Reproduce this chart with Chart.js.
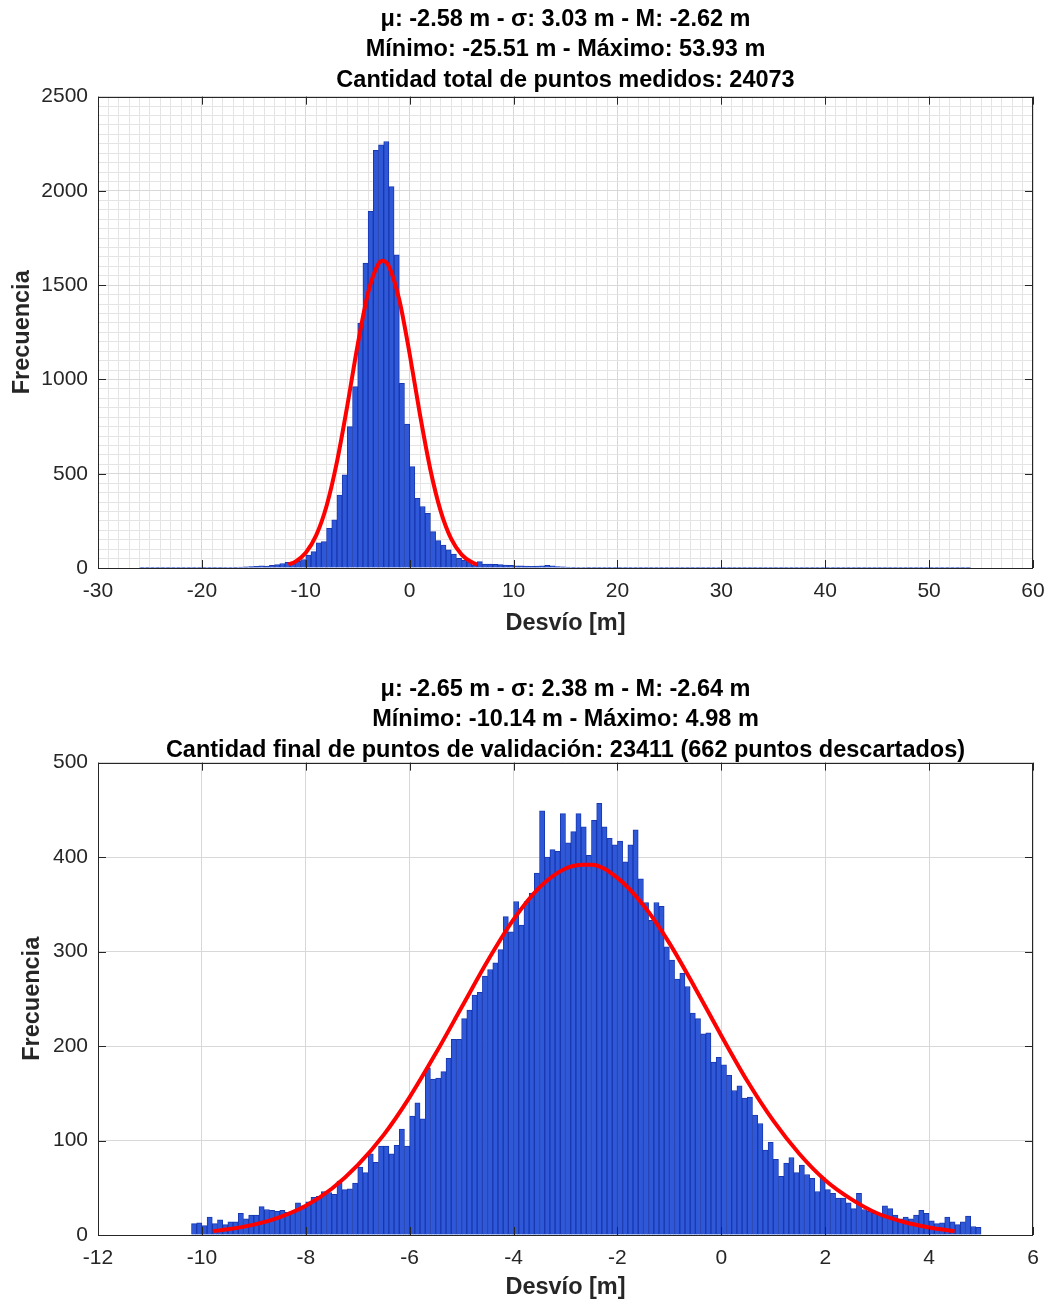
<!DOCTYPE html>
<html>
<head>
<meta charset="utf-8">
<script src="https://cdn.jsdelivr.net/npm/chart.js@4.4.1/dist/chart.umd.min.js"></script>
<style>
  html, body { margin: 0; padding: 0; background: #fff; overflow: hidden; }
  #pagina { position: relative; width: 1048px; height: 1304px; }
  canvas { position: absolute; left: 0; }
  #histTotal { top: 0px; }
  #histFinal { top: 672px; }
</style>
</head>
<body>
<div id="pagina">
  <canvas id="histTotal" width="1048" height="648"></canvas>
  <canvas id="histFinal" width="1048" height="632"></canvas>
</div>
<script>
// ---- datos del histograma de arriba (todos los puntos medidos) ----
const totalBinStart = -26;   // borde izquierdo del primer bin [m]
const totalBinWidth = 0.5;   // ancho de bin [m]
const totalCounts = [
  1, 1, 1, 1, 1, 1, 1, 1, 2, 1, 1, 2, 1, 2, 2, 2,
  3, 3, 4, 5, 6, 7,
  9, 12, 10, 14, 18, 24,
  30, 28, 35, 45, 69, 87, 134, 140, 210, 255,
  387, 494, 750, 962, 1298, 1617, 1892, 2215, 2245, 2262,
  2023, 1661, 980, 764, 538, 370, 326, 290, 193, 145,
  122, 96, 74, 51, 42, 34, 16, 34, 21, 21,
  20, 18, 16, 14, 12, 11, 10, 9, 10, 12,
  14, 12, 8, 6, 5, 4, 3, 3, 2, 2,
  2, 1, 1, 2, 1, 1, 1, 1, 2, 1, 1, 1, 1, 1, 1, 1, 1, 1,
  1, 1, 1, 1, 1, 1, 1, 1, 1, 1, 1, 1, 1, 1, 1, 1, 1, 1,
  1, 1, 1, 1, 1, 1, 1, 1, 1, 1, 1, 1, 1, 1, 1, 1, 1, 1,
  1, 1, 1, 1, 1, 1, 1, 1, 1, 1, 1, 1, 1, 1, 1, 1, 1, 1
];
// curva normal ajustada
const totalFitX = [-11.67, -11, -10, -9, -8, -7, -6, -5, -4, -3, -2.58, -2, -1, 0, 1, 2, 3, 4, 5, 6, 6.51];
const totalFitY = [18, 34, 81, 173, 329, 563, 862, 1185, 1460, 1614, 1630, 1600, 1423, 1135, 811, 520, 299, 154, 71, 30, 18];
const totalXLabels = [-30, -20, -10, 0, 10, 20, 30, 40, 50, 60];
const totalYLabels = [0, 500, 1000, 1500, 2000, 2500];
const totalTitle = [
  'μ: -2.58 m - σ: 3.03 m - M: -2.62 m',
  'Mínimo: -25.51 m - Máximo: 53.93 m',
  'Cantidad total de puntos medidos: 24073'
];

// ---- datos del histograma de abajo (puntos de validacion) ----
const finalBinStart = -10.2;
const finalBinWidth = 0.1;
const finalCounts = [
  12, 13, 10, 19, 12, 16, 11, 14, 14, 23,
  17, 21, 21, 30, 27, 26, 25, 26, 24, 25,
  34, 31, 35, 40, 41, 46, 45, 43, 57, 48,
  49, 55, 72, 66, 86, 77, 94, 94, 86, 95,
  112, 94, 126, 140, 123, 177, 165, 166, 173, 187,
  207, 207, 229, 238, 254, 257, 274, 281, 288, 302,
  337, 321, 353, 328, 353, 362, 383, 449, 400, 408,
  406, 446, 415, 427, 446, 432, 402, 439, 457, 432,
  420, 413, 417, 395, 413, 429, 377, 352, 333, 352,
  348, 305, 291, 271, 277, 263, 235, 229, 213, 214,
  183, 188, 180, 169, 153, 158, 145, 146, 127, 118,
  90, 98, 80, 62, 76, 82, 66, 74, 64, 60,
  46, 61, 48, 44, 39, 39, 34, 28, 44, 27,
  25, 23, 23, 31, 28, 21, 17, 19, 17, 21,
  26, 23, 15, 12, 13, 19, 14, 11, 14, 20,
  9, 8
];
const finalFitX = [-9.79, -9.5, -9, -8.5, -8, -7.5, -7, -6.5, -6, -5.5, -5, -4.5, -4, -3.5, -3, -2.65, -2.5, -2, -1.5, -1, -0.5, 0, 0.5, 1, 1.5, 2, 2.5, 3, 3.5, 4, 4.49];
const finalFitY = [4, 6, 11, 19, 31, 49, 74, 106, 146, 192, 241, 290, 334, 368, 388, 392, 392, 378, 349, 309, 261, 211, 163, 121, 86, 58, 38, 23, 14, 8, 4];
const finalXLabels = [-12, -10, -8, -6, -4, -2, 0, 2, 4, 6];
const finalYLabels = [0, 100, 200, 300, 400, 500];
const finalTitle = [
  'μ: -2.65 m - σ: 2.38 m - M: -2.64 m',
  'Mínimo: -10.14 m - Máximo: 4.98 m',
  'Cantidad final de puntos de validación: 23411 (662 puntos descartados)'
];

Chart.defaults.font.family = "'Liberation Sans', Arial, Helvetica, sans-serif";

var corBarra = '#2f58d8';
var corBorda = '#1838b0';
var corGridMaior = '#d8d8d8';
var corGridMenor = '#e4e4e4';
var corEixo = '#262626';

// marco de la caja + marcas de los ticks (como el box on de matlab)
const marco = {
  id: 'marco',
  afterDraw(chart, args, opts) {
    const { ctx, chartArea: a, scales } = chart;
    ctx.save();
    ctx.strokeStyle = corEixo;
    ctx.lineWidth = 1;
    ctx.beginPath();
    opts.xTicks.forEach(v => {
      const p = Math.round(scales.x.getPixelForValue(v)) + 0.5;
      ctx.moveTo(p, a.bottom); ctx.lineTo(p, a.bottom - 8);
      ctx.moveTo(p, a.top); ctx.lineTo(p, a.top + 8);
    });
    opts.yTicks.forEach(v => {
      const p = Math.round(scales.y.getPixelForValue(v)) + 0.5;
      ctx.moveTo(a.left, p); ctx.lineTo(a.left + 8, p);
      ctx.moveTo(a.right, p); ctx.lineTo(a.right - 8, p);
    });
    ctx.stroke();
    ctx.strokeRect(Math.round(a.left) + 0.5, Math.round(a.top) + 0.5,
      Math.round(a.right - a.left) - 1, Math.round(a.bottom - a.top));
    ctx.restore();
  }
};

function pares(xs, ys) {
  return xs.map((x, i) => ({ x: x, y: ys[i] }));
}

function barras(start, width, counts) {
  return counts.map((c, i) => ({ x: start + width * (i + 0.5), y: c }));
}

function montarHistograma(id, cfg) {
  return new Chart(document.getElementById(id), {
    type: 'bar',
    data: {
      datasets: [
        {
          type: 'line',
          data: pares(cfg.fitX, cfg.fitY),
          borderColor: '#ff0000',
          borderWidth: 4,
          pointRadius: 0,
          fill: false,
          cubicInterpolationMode: 'monotone',
          order: 0
        },
        {
          data: barras(cfg.binStart, cfg.binWidth, cfg.counts),
          backgroundColor: corBarra,
          borderColor: corBorda,
          borderWidth: 1,
          barPercentage: 1,
          categoryPercentage: 1,
          order: 1
        }
      ]
    },
    options: {
      responsive: false,
      animation: false,
      layout: { padding: { left: 0, right: 15, top: 0, bottom: 0 } },
      scales: {
        x: {
          type: 'linear',
          offset: false,
          min: cfg.xMin, max: cfg.xMax,
          afterFit: s => {
            s.height = cfg.xAxisHeight;
            s.paddingLeft = 0;   // que la etiqueta del extremo no achique el area
            s.paddingRight = 0;
          },
          grid: {
            offset: false,
            drawTicks: false,
            color: c => (cfg.xLabels.includes(c.tick.value) ? corGridMaior : corGridMenor)
          },
          border: { display: false },
          ticks: {
            stepSize: cfg.xStep,
            autoSkip: false,
            maxRotation: 0,
            maxTicksLimit: 300,
            padding: 11,
            color: corEixo,
            font: { size: 21 },
            callback: v => (cfg.xLabels.includes(v) ? String(v) : '')
          },
          title: {
            display: true,
            text: 'Desvío [m]',
            color: corEixo,
            font: { size: 23.5, weight: 'bold' },
            padding: { top: 0, bottom: cfg.xTitlePad }
          }
        },
        y: {
          min: 0, max: cfg.yMax,
          afterFit: s => { s.width = 98; },
          grid: {
            drawTicks: false,
            color: c => (cfg.yLabels.includes(c.tick.value) ? corGridMaior : corGridMenor)
          },
          border: { display: false },
          ticks: {
            stepSize: cfg.yStep,
            autoSkip: false,
            maxTicksLimit: 300,
            padding: 10,
            color: corEixo,
            font: { size: 21 },
            callback: v => (cfg.yLabels.includes(v) ? String(v) : '')
          },
          title: {
            display: true,
            text: 'Frecuencia',
            color: corEixo,
            font: { size: 23.5, weight: 'bold' },
            padding: { top: cfg.yTitlePad, bottom: 0 }
          }
        }
      },
      plugins: {
        legend: { display: false },
        tooltip: { enabled: false },
        title: {
          display: true,
          fullSize: false,
          text: cfg.title,
          color: '#000',
          font: { size: 23.5, weight: 'bold', lineHeight: 1.3 },
          padding: { top: cfg.titlePadTop, bottom: cfg.titlePadBottom }
        },
        marco: { xTicks: cfg.xLabels, yTicks: cfg.yLabels }
      }
    },
    plugins: [marco]
  });
}

// grafico de arriba, con grilla menor
const chartTotal = montarHistograma('histTotal', {
  binStart: totalBinStart, binWidth: totalBinWidth, counts: totalCounts,
  fitX: totalFitX, fitY: totalFitY,
  xMin: -30, xMax: 60, xStep: 1, xLabels: totalXLabels,
  yMax: 2500, yStep: 50, yLabels: totalYLabels,
  title: totalTitle, titlePadTop: 4, titlePadBottom: 1,
  xAxisHeight: 80, xTitlePad: 10, yTitlePad: 8
});

// grafico de abajo, solo grilla mayor
const chartFinal = montarHistograma('histFinal', {
  binStart: finalBinStart, binWidth: finalBinWidth, counts: finalCounts,
  fitX: finalFitX, fitY: finalFitY,
  xMin: -12, xMax: 6, xStep: 2, xLabels: finalXLabels,
  yMax: 500, yStep: 100, yLabels: finalYLabels,
  title: finalTitle, titlePadTop: 2, titlePadBottom: -3,
  xAxisHeight: 69, xTitlePad: 2, yTitlePad: 18
});
</script>
</body>
</html>
